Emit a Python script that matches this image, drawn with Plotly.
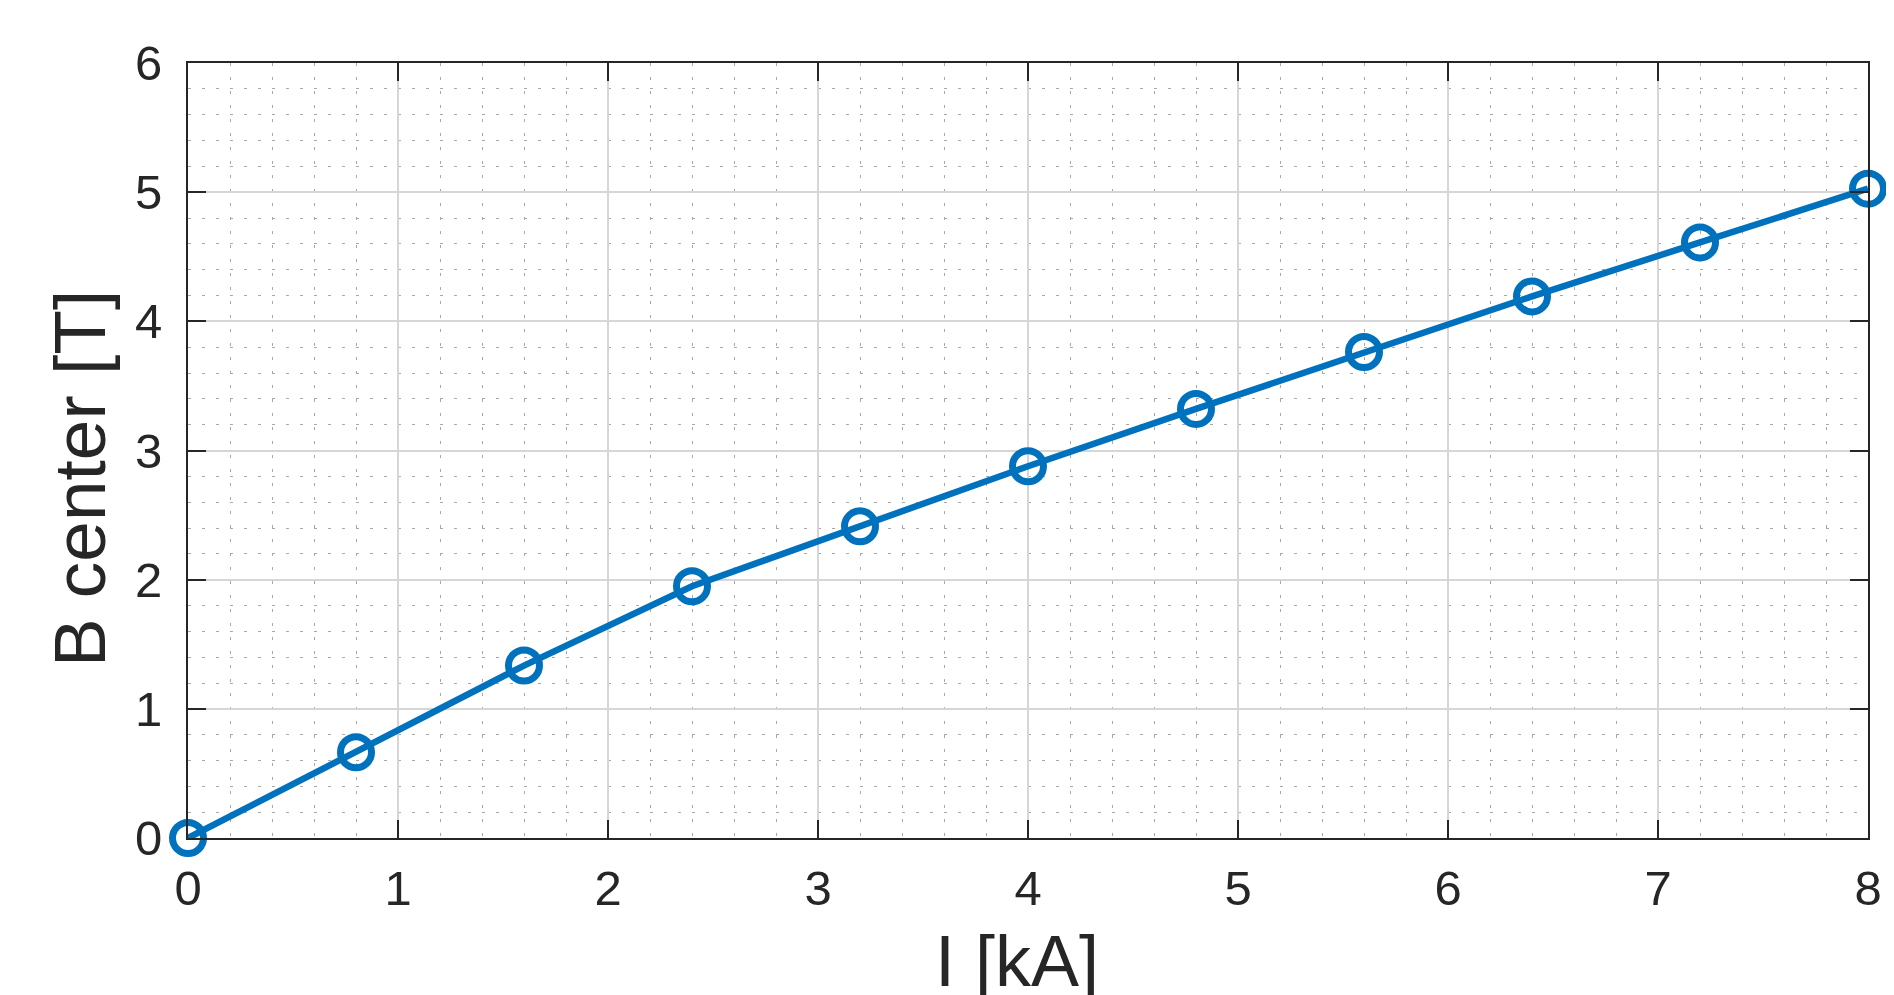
import plotly.graph_objects as go

current_kA = [0, 0.8, 1.6, 2.4, 3.2, 4.0, 4.8, 5.6, 6.4, 7.2, 8.0]
b_center_T = [0, 0.664, 1.335, 1.949, 2.413, 2.878, 3.322, 3.763, 4.193, 4.611, 5.027]
x_ticks = [0, 1, 2, 3, 4, 5, 6, 7, 8]
y_ticks = [0, 1, 2, 3, 4, 5, 6]
x_title = "I [kA]"
y_title = "B center [T]"

OFF = 8  # page body margin
W, H = 1894 - OFF, 995 - OFF
L, R, T, B = 188 - OFF, 1874 - OFF, 63 - OFF, 838.5 - OFF

FONT = "Liberation Sans, Arial, Helvetica, sans-serif"
DARK = "#262626"
BLUE = "#0072BD"

fig = go.Figure()
fig.add_trace(go.Scatter(
    x=current_kA, y=b_center_T, mode="lines+markers",
    line=dict(color=BLUE, width=6.5),
    marker=dict(symbol="circle-open", size=31, color=BLUE, line=dict(color=BLUE, width=7)),
    cliponaxis=False, showlegend=False,
))

axis_common = dict(
    showline=True, linecolor=DARK, linewidth=2, mirror="ticks",
    ticks="inside", ticklen=18, tickwidth=2, tickcolor=DARK,
    showgrid=True, gridcolor="#D6D6D6", gridwidth=1.5,
    zeroline=False,
    tickfont=dict(family=FONT, size=49, color=DARK),
    minor=dict(dtick=0.2, showgrid=True, gridcolor="#A8A8A8", gridwidth=1,
               griddash="3px,11px", ticks=""),
)

fig.update_xaxes(range=[0, 8], tickvals=x_ticks, ticklabelstandoff=6, **axis_common)
fig.update_yaxes(range=[0, 6], tickvals=y_ticks, ticklabelstandoff=14, **axis_common)

pw, ph = R - L, B - T
fig.add_annotation(
    text=y_title, textangle=-90, showarrow=False,
    xref="paper", yref="paper",
    x=(79 - OFF - L) / pw, y=(B - (479 - OFF)) / ph, xanchor="center", yanchor="middle",
    font=dict(family=FONT, size=73, color=DARK),
)
fig.add_annotation(
    text=x_title, showarrow=False,
    xref="paper", yref="paper",
    x=(1020 - OFF - L) / pw, y=(B - (962 - OFF)) / ph, xanchor="center", yanchor="middle",
    font=dict(family=FONT, size=72, color=DARK),
)

fig.update_layout(
    width=W, height=H, autosize=False,
    margin=dict(l=L, r=W - R, t=T, b=H - B, pad=0),
    paper_bgcolor="white", plot_bgcolor="white",
)

fig.write_html("out.html", config={"displayModeBar": False})
